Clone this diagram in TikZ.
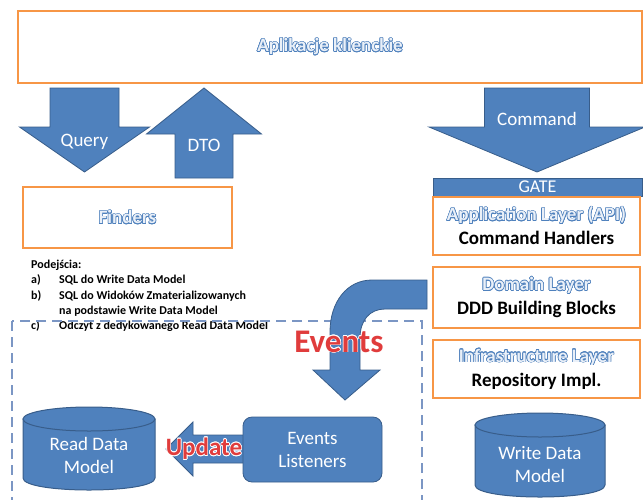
\documentclass[tikz,border=0pt]{standalone}
\usepackage{fontspec}
\setmainfont{Carlito}
\usepackage{contour}
\contourlength{0.6pt}
\definecolor{boxorange}{HTML}{F79646}
\definecolor{arrowblue}{HTML}{4F81BD}
\definecolor{arrowline}{HTML}{385D8A}
\definecolor{labelfill}{HTML}{EAF0F8}
\definecolor{eventred}{HTML}{E03C3C}
\definecolor{dashblue}{HTML}{7B96C4}
\newcommand{\layertitle}[1]{{\color{labelfill}\contour{arrowblue}{#1}}}
\newcommand{\redword}[1]{{\color{eventred}\contour{white}{#1}}}
\tikzset{
	layerbox/.style={draw=boxorange,line width=1.8pt,fill=white,inner sep=0pt},
	blockarrow/.style={fill=arrowblue,draw=arrowline,line width=0.8pt},
	arrowtext/.style={text=white,font=\fontsize{19}{23}\selectfont,align=center,inner sep=0pt},
	dbshape/.style={fill=arrowblue,draw=arrowline,line width=1pt},
	dashedframe/.style={draw=dashblue,line width=1.5pt,dash pattern=on 10pt off 6pt}
}
\begin{document}
\begin{tikzpicture}[x=1pt,y=-1pt]
		\useasboundingbox (0,0) rectangle (643,499);
		\node[layerbox,minimum width=624pt,minimum height=72pt,font=\bfseries\fontsize{19}{19}\selectfont] (apps) at (330,47) {\layertitle{Aplikacje klienckie}};
		\foreach \cx/\sw/\hw/\ya/\yb/\yc/\nm/\txt/\ty in {84.5/34.5/65/88/127/172/query/Query/142, 204/29/57.5/178/134/88/dto/DTO/145, 537/52.5/108/88/127/172/command/Command/119}
		{
			\filldraw[blockarrow] (\cx-\sw,\ya) -- (\cx+\sw,\ya) -- (\cx+\sw,\yb) -- (\cx+\hw,\yb) -- (\cx,\yc) -- (\cx-\hw,\yb) -- (\cx-\sw,\yb) -- cycle;
			\node[arrowtext] (\nm) at (\cx,\ty) {\txt};
		}
		\node[layerbox,minimum width=209pt,minimum height=61pt,font=\bfseries\fontsize{19}{19}\selectfont] (finders) at (127.5,217.5) {\layertitle{Finders}};
		\node[blockarrow,minimum width=209pt,minimum height=18pt,inner sep=0pt,text=white,font=\fontsize{18}{18}\selectfont] (gate) at (537.5,187) {GATE};
		\begin{scope}[every node/.style={layerbox,minimum width=207pt,align=center,font=\bfseries\fontsize{19}{24}\selectfont}]
		\node[minimum height=58pt] (application) at (536.5,226) {\layertitle{Application Layer (API)}\\Command Handlers};
		\node[minimum height=61pt] (domain) at (536.5,297.5) {\layertitle{Domain Layer}\\DDD Building Blocks};
		\node[minimum height=58pt] (infra) at (536.5,369) {\layertitle{Infrastructure Layer}\\Repository Impl.};
		\end{scope}
		\node[anchor=north west,inner sep=0pt,align=left,font=\bfseries\fontsize{12}{15.3}\selectfont] (approaches) at (31,260) {Podejścia:\\
			\makebox[28pt][l]{a)}SQL do Write Data Model\\
			\makebox[28pt][l]{b)}SQL do Widoków Zmaterializowanych\\
			\makebox[28pt][l]{}na podstawie Write Data Model\\
			\makebox[28pt][l]{c)}Odczyt z dedykowanego Read Data Model};
		\draw[dashedframe] (12,321) rectangle (422,512);
		\filldraw[blockarrow] (427,280) -- (372,280) .. controls (347,280) and (330,302) .. (330,332) -- (330,370) -- (313,370) -- (345,400) -- (380,370) -- (360,370) -- (360,338) .. controls (360,320) and (370,309) .. (385,309) -- (427,309) -- cycle;
		\filldraw[blockarrow] (250,435) -- (193,435) -- (193,422) -- (166,449) -- (193,476) -- (193,463) -- (250,463) -- cycle;
		\node[blockarrow,arrowtext,rounded corners=9pt,minimum width=139pt,minimum height=65pt] (listeners) at (312.5,449.5) {Events\\Listeners};
		\foreach \cx/\yt/\yb/\rx/\nm/\txt/\ty in {89/419/478/66/readdb/{Read Data\\Model}/455, 540/425/485/65/writedb/{Write Data\\Model}/465}
		{
			\filldraw[dbshape] (\cx-\rx,\yt) -- (\cx-\rx,\yb) .. controls (\cx-\rx,\yb+16) and (\cx+\rx,\yb+16) .. (\cx+\rx,\yb) -- (\cx+\rx,\yt) -- cycle;
			\filldraw[dbshape] (\cx,\yt) ellipse [x radius=\rx,y radius=12];
			\node[arrowtext] (\nm) at (\cx,\ty) {\txt};
		}
		\node[inner sep=0pt,font=\bfseries\fontsize{33}{33}\selectfont] (eventslabel) at (339,342) {\redword{Events}};
		\node[inner sep=0pt,font=\bfseries\fontsize{25}{25}\selectfont] (updatelabel) at (204,449) {\redword{Update}};
\end{tikzpicture}
\end{document}
